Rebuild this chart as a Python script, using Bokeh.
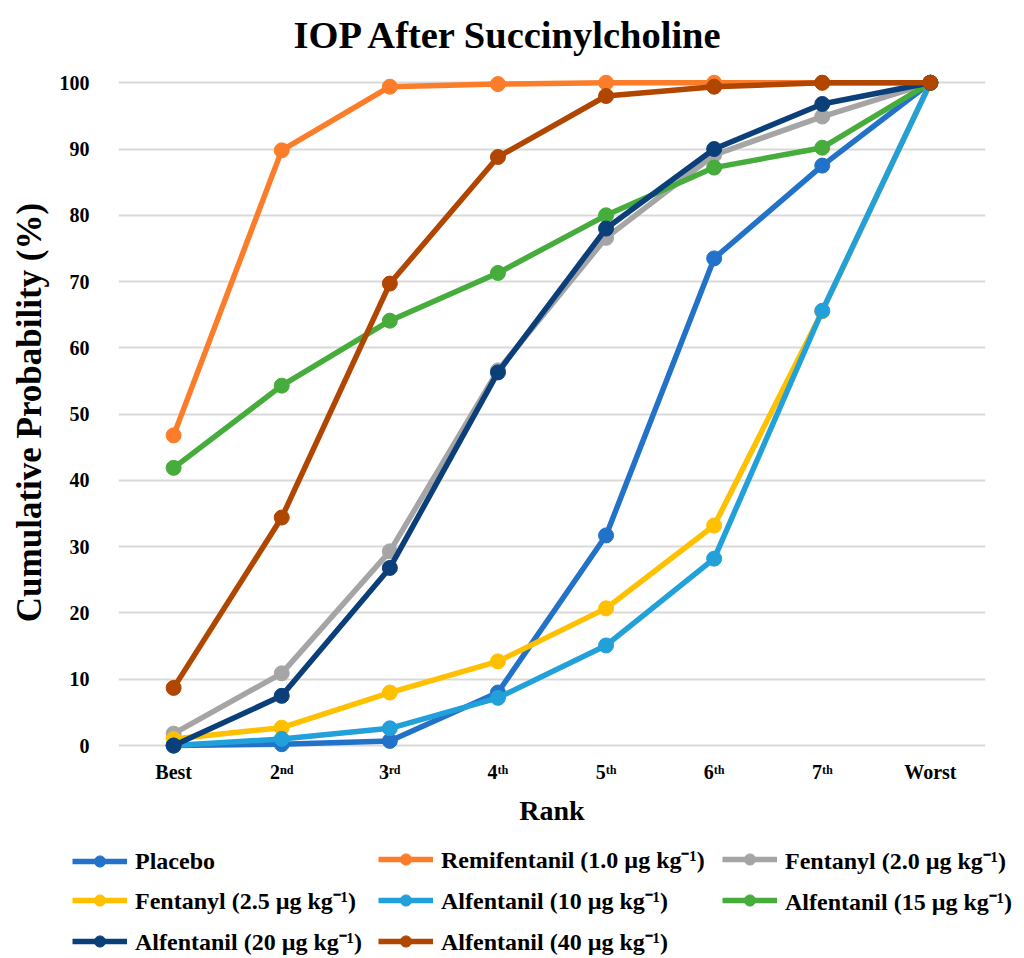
from bokeh.plotting import figure
from bokeh.models import Legend, LegendItem, FixedTicker, Range1d
from bokeh.embed import file_html
from bokeh.resources import INLINE

ranks = ["Best", "2ⁿᵈ", "3ʳᵈ", "4ᵗʰ", "5ᵗʰ", "6ᵗʰ", "7ᵗʰ", "Worst"]

placebo = [0.0, 0.2, 0.7, 8.0, 31.7, 73.5, 87.5, 100]
remifentanil_1_0 = [46.8, 89.8, 99.4, 99.8, 100, 100, 100, 100]
fentanyl_2_0 = [1.8, 10.9, 29.3, 56.6, 76.6, 89.1, 94.9, 100]
fentanyl_2_5 = [1.0, 2.7, 8.0, 12.7, 20.7, 33.2, 65.5, 100]
alfentanil_10 = [0.0, 1.0, 2.6, 7.2, 15.1, 28.2, 65.6, 100]
alfentanil_15 = [41.9, 54.3, 64.1, 71.3, 80.0, 87.2, 90.2, 100]
alfentanil_20 = [0.0, 7.5, 26.8, 56.3, 78.0, 90.0, 96.8, 100]
alfentanil_40 = [8.7, 34.4, 69.7, 88.8, 98.0, 99.4, 100, 100]

series_names = [
    "Placebo",
    "Remifentanil (1.0 µg kg⁻¹)",
    "Fentanyl (2.0 µg kg⁻¹)",
    "Fentanyl (2.5 µg kg⁻¹)",
    "Alfentanil (10 µg kg⁻¹)",
    "Alfentanil (15 µg kg⁻¹)",
    "Alfentanil (20 µg kg⁻¹)",
    "Alfentanil (40 µg kg⁻¹)",
]
series_values = [placebo, remifentanil_1_0, fentanyl_2_0, fentanyl_2_5,
                 alfentanil_10, alfentanil_15, alfentanil_20, alfentanil_40]
series_colors = ["#2272C9", "#FB7D2A", "#A5A5A5", "#FFC000",
                 "#22A0D9", "#46AC3C", "#0B3F7A", "#B04600"]

y_ticks = [0, 10, 20, 30, 40, 50, 60, 70, 80, 90, 100]

FONT = "Liberation Serif"

p = figure(width=1008, height=830, output_backend="svg", toolbar_location=None,
           x_range=Range1d(-0.51, 7.51), y_range=Range1d(-1.5, 102),
           min_border_left=118, min_border_right=23, min_border_top=69,
           min_border_bottom=75)

p.title.text = "IOP After Succinylcholine"
p.title.align = "left"
p.title.offset = 175
p.title.vertical_align = "top"
p.title.standoff = 23
p.title.text_font = FONT
p.title.text_font_size = "38.5px"
p.title.text_font_style = "bold"
p.title.text_color = "#000000"

xs = list(range(len(ranks)))
for name, vals, col in zip(series_names, series_values, series_colors):
    p.line(xs, vals, line_color=col, line_width=5.5)
    p.scatter(xs, vals, size=15, fill_color=col, line_color=col)

p.xaxis.ticker = FixedTicker(ticks=xs)
p.xaxis.major_label_overrides = {i: t for i, t in enumerate(ranks)}
p.yaxis.ticker = FixedTicker(ticks=y_ticks)

for ax in (p.xaxis, p.yaxis):
    ax.axis_line_color = None
    ax.major_tick_line_color = None
    ax.minor_tick_line_color = None
    ax.major_label_text_font = FONT
    ax.major_label_text_font_style = "bold"
    ax.major_label_text_color = "#000000"
    ax.major_label_text_font_size = "20px"
    ax.axis_label_text_font = FONT
    ax.axis_label_text_font_style = "bold"
    ax.axis_label_text_color = "#000000"

p.xaxis.major_tick_out = 0
p.xaxis.major_tick_in = 0
p.xaxis.axis_label = "Rank"
p.xaxis.axis_label_text_font_size = "28px"
p.xaxis.major_label_standoff = 5
p.xaxis.axis_label_standoff = 9
p.yaxis.axis_label = "Cumulative Probability (%)"
p.yaxis.axis_label_text_font_size = "35px"
p.yaxis.major_label_standoff = 23
p.yaxis.axis_label_standoff = 8

p.xgrid.grid_line_color = None
p.ygrid.grid_line_color = "#D9D9D9"
p.ygrid.grid_line_width = 2
p.outline_line_color = None

# legend panel below the chart (separate root)
lf = figure(width=1016, height=126, output_backend="svg", toolbar_location=None,
            x_range=Range1d(20, 21), y_range=Range1d(200, 201),
            x_axis_location=None, y_axis_location=None,
            min_border=0, min_border_left=0, min_border_right=0,
            min_border_top=0, min_border_bottom=0)
lf.grid.visible = False
lf.outline_line_color = None
items = []
for name, vals, col in zip(series_names, series_values, series_colors):
    r1 = lf.line(xs, vals, line_color=col, line_width=5.5)
    r2 = lf.scatter(xs, vals, size=15, fill_color=col, line_color=col)
    items.append(LegendItem(label=name, renderers=[r1, r2]))

# three legend columns, items filled row by row (3 per row)
col_x = [72, 378, 722]
row_pitch = 40.5
for c, x0 in enumerate(col_x):
    col_items = items[c::3]
    n = len(col_items)
    lg = Legend(items=col_items, orientation="vertical",
                location=(x0, -1 + (3 - n) * row_pitch),
                label_text_font=FONT, label_text_font_size="24px",
                label_text_font_style="bold", label_text_color="#000000",
                glyph_width=55, glyph_height=28, label_standoff=8,
                spacing=8, padding=0, margin=0,
                border_line_color=None, background_fill_alpha=0)
    lf.add_layout(lg, "center")

open("out.html", "w").write(file_html([p, lf], INLINE))
